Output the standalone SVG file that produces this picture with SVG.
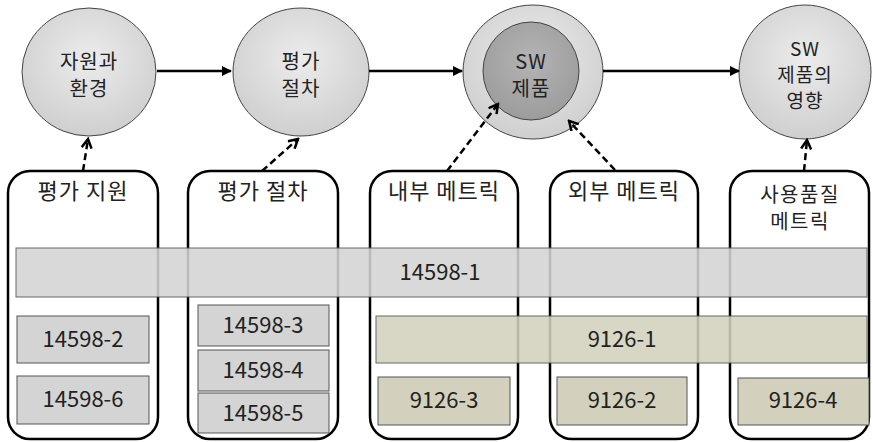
<svg xmlns="http://www.w3.org/2000/svg" width="873" height="442" viewBox="0 0 873 442">
<defs>
<radialGradient id="g1" cx="50%" cy="40%" r="60%">
<stop offset="0" stop-color="#ececec"/><stop offset="1" stop-color="#cfcfcf"/>
</radialGradient>
<radialGradient id="g2" cx="50%" cy="40%" r="60%">
<stop offset="0" stop-color="#b4b4b4"/><stop offset="1" stop-color="#9c9c9c"/>
</radialGradient>
<marker id="ah" markerWidth="10" markerHeight="10" refX="9" refY="5" orient="auto" markerUnits="userSpaceOnUse">
<path d="M0,0 L10,5 L0,10 z" fill="#000"/>
</marker>
<marker id="ad" markerWidth="12" markerHeight="12" refX="10" refY="6" orient="auto" markerUnits="userSpaceOnUse">
<path d="M1,1 L10,6 L1,11" fill="none" stroke="#000" stroke-width="2.5"/>
</marker>
</defs>
<style>
text{font-family:"Noto Sans CJK KR","Noto Sans",sans-serif;fill:#222;text-anchor:middle}
.c{fill:url(#g1);stroke:#444;stroke-width:1}
.ci{fill:url(#g2);stroke:#444;stroke-width:1}
.box{fill:#fff;stroke:#000;stroke-width:2.5}
.g{fill:#d4d4d4;stroke:#555;stroke-width:1}
.k{fill:#d3d1bd;stroke:#555;stroke-width:1}
.band{opacity:0.88}
.t{font-size:20px;letter-spacing:1px}
.t4{font-size:19px;letter-spacing:1px}
.b{font-size:22px;letter-spacing:1px}
.b5{font-size:20px;letter-spacing:1.5px}
.n{font-size:22px}
.h{stroke:#000;stroke-width:2.5;fill:none}
.d{stroke:#000;stroke-width:2.5;stroke-dasharray:7,4;fill:none}
</style>
<g id="n1"><ellipse class="c" cx="89" cy="72" rx="67" ry="64"/><text class="t" x="89" y="69">자원과</text><text class="t" x="89" y="96">환경</text></g>
<g id="n2"><ellipse class="c" cx="301" cy="72" rx="68" ry="64"/><text class="t" x="301" y="69">평가</text><text class="t" x="301" y="96">절차</text></g>
<g id="n3"><ellipse class="c" cx="533" cy="72" rx="70" ry="67"/><ellipse class="ci" cx="531" cy="71" rx="48" ry="49"/><text class="t" x="531" y="69">SW</text><text class="t" x="531" y="96">제품</text></g>
<g id="n4"><ellipse class="c" cx="805" cy="72" rx="66" ry="67"/><text class="t4" x="805" y="56">SW</text><text class="t4" x="805" y="82">제품의</text><text class="t4" x="805" y="108">영향</text></g>
<g id="b1"><rect class="box" x="8" y="171" width="150" height="268" rx="22"/><text class="b" x="83" y="199">평가 지원</text></g>
<g id="b2"><rect class="box" x="188" y="171" width="150" height="268" rx="22"/><text class="b" x="263" y="199">평가 절차</text></g>
<g id="b3"><rect class="box" x="370" y="171" width="148" height="268" rx="22"/><text class="b" x="444" y="199">내부 메트릭</text></g>
<g id="b4"><rect class="box" x="550" y="171" width="148" height="268" rx="22"/><text class="b" x="624" y="199">외부 메트릭</text></g>
<g id="b5"><rect class="box" x="730" y="171" width="139" height="268" rx="22"/><text class="b5" x="800" y="202">사용품질</text><text class="b5" x="800" y="229">메트릭</text></g>
<g id="r1"><rect class="g band" x="16" y="248" width="851" height="49"/><text class="n" x="440" y="280">14598-1</text></g>
<g id="r2"><rect class="k band" x="376" y="316" width="491" height="47"/><text class="n" x="622" y="347">9126-1</text></g>
<g id="r3"><rect class="g" x="17" y="316" width="132" height="47"/><text class="n" x="83" y="347">14598-2</text></g>
<g id="r4"><rect class="g" x="17" y="376" width="132" height="48"/><text class="n" x="83" y="407">14598-6</text></g>
<g id="r5"><rect class="g" x="198" y="305" width="131" height="41"/><text class="n" x="263" y="333">14598-3</text></g>
<g id="r6"><rect class="g" x="198" y="350" width="131" height="41"/><text class="n" x="263" y="378">14598-4</text></g>
<g id="r7"><rect class="g" x="198" y="393" width="131" height="40"/><text class="n" x="263" y="421">14598-5</text></g>
<g id="r8"><rect class="k" x="378" y="377" width="132" height="48"/><text class="n" x="444" y="408">9126-3</text></g>
<g id="r9"><rect class="k" x="557" y="377" width="130" height="48"/><text class="n" x="622" y="408">9126-2</text></g>
<g id="r10"><rect class="k" x="738" y="378" width="131" height="47"/><text class="n" x="803" y="408">9126-4</text></g>
<g id="connectors">
<line class="h" x1="157" y1="71" x2="231" y2="71" marker-end="url(#ah)"/>
<line class="h" x1="369" y1="71" x2="462" y2="71" marker-end="url(#ah)"/>
<line class="h" x1="603" y1="71" x2="739" y2="71" marker-end="url(#ah)"/>
<line class="d" x1="83" y1="171" x2="88" y2="139" marker-end="url(#ad)"/>
<line class="d" x1="262" y1="171" x2="298" y2="139" marker-end="url(#ad)"/>
<line class="d" x1="447" y1="171" x2="498" y2="104" marker-end="url(#ad)"/>
<line class="d" x1="615" y1="170" x2="569" y2="121" marker-end="url(#ad)"/>
<line class="d" x1="804" y1="171" x2="807" y2="140" marker-end="url(#ad)"/>
</g>
</svg>
